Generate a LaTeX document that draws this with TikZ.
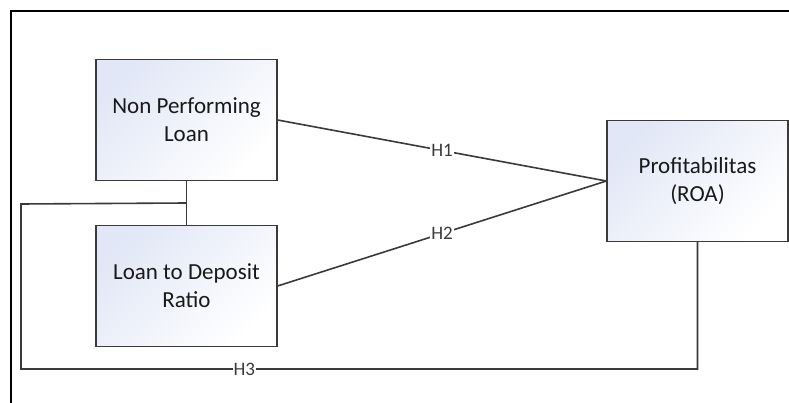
\documentclass[tikz,border=0pt]{standalone}
\usepackage{fontspec}
\setmainfont{Carlito}
\usetikzlibrary{positioning}
\usetikzlibrary{calc}
\definecolor{boxblue}{HTML}{E1E7F6}
\definecolor{linegray}{HTML}{3A3A3A}
\tikzset{
  varbox/.style={draw=linegray, line width=1.2pt, top color=boxblue, bottom color=white,
    shading angle=45, minimum width=181pt, minimum height=121pt, inner sep=0pt,
    align=center, text=black!90, font=\fontsize{23}{28}\selectfont},
  link/.style={draw=linegray, line width=1.6pt},
  hyp/.style={fill=white, inner sep=1pt, text=linegray, font=\fontsize{19}{19}\selectfont}
}
\begin{document}
\begin{tikzpicture}[x=1pt, y=-1pt]
    \useasboundingbox (0,0) rectangle (789,403);
    \draw[black, line width=2pt] (11,403) -- (11,11) -- (789,11);
    %
    \node[varbox] (npl) at (186.5,120) {Non Performing\\Loan};
    \node[varbox] (ldr) at (186.5,286) {Loan to Deposit\\Ratio};
    \node[varbox] (roa) at (697.5,181) {Profitabilitas\\(ROA)};
    %
    \node[coordinate] (J) at ($(npl.south)!0.5!(ldr.north)$) {};
    \node[coordinate] (A) at (21,204) {};
    \node[coordinate] (B) at (21,369) {};
    \node[coordinate] (C) at (roa.south |- B) {};
    %
    \draw[link] (npl.east) -- node[hyp] {H1} (roa.west);
    \draw[link] (ldr.east) -- node[hyp] {H2} (roa.west);
    \draw[link] (npl.south) -- (ldr.north);
    \draw[link] (J) -- (A) -- (B) -- node[hyp, pos=0.33] {H3} (C) -- (roa.south);
\end{tikzpicture}
\end{document}
